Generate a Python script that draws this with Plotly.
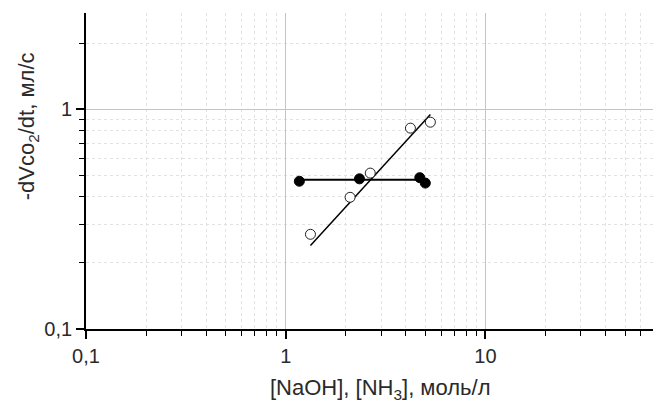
import plotly.graph_objects as go
import numpy as np

# NaOH series (filled) and NH3 series (open)
naoh_x = [1.17, 2.34, 4.69, 5.0]
naoh_y = [0.471, 0.483, 0.489, 0.462]
naoh_fit_x = [1.17, 4.95]
naoh_fit_y = [0.478, 0.478]

nh3_x = [1.33, 2.10, 2.65, 4.21, 5.30]
nh3_y = [0.27, 0.398, 0.513, 0.822, 0.875]
nh3_fit_x = [1.33, 5.30]
nh3_fit_y = [0.240, 0.949]

x_tickvals = [0.1, 1, 10]
x_ticktext = ["0,1", "1", "10"]
y_tickvals = [0.1, 1]
y_ticktext = ["0,1", "1"]
x_minor = [0.2, 0.3, 0.4, 0.5, 0.6, 0.7, 0.8, 0.9, 2, 3, 4, 5, 6, 7, 8, 9, 20, 30, 40, 50, 60]
y_minor = [0.2, 0.3, 0.4, 0.5, 0.6, 0.7, 0.8, 0.9, 2]

fig = go.Figure()
fig.add_trace(go.Scatter(x=naoh_fit_x, y=naoh_fit_y, mode="lines",
                         line=dict(color="black", width=2), showlegend=False))
fig.add_trace(go.Scatter(x=nh3_fit_x, y=nh3_fit_y, mode="lines",
                         line=dict(color="black", width=1.5), showlegend=False))
fig.add_trace(go.Scatter(x=naoh_x, y=naoh_y, mode="markers",
                         marker=dict(color="black", size=10, line=dict(color="black", width=1)),
                         showlegend=False))
fig.add_trace(go.Scatter(x=nh3_x, y=nh3_y, mode="markers",
                         marker=dict(color="white", size=10, line=dict(color="#222", width=1)),
                         showlegend=False))

tick_font = dict(family="Liberation Sans, Arial", size=20, color="#2a2a2a")
title_font = dict(family="Liberation Sans, Arial", size=22, color="#2a2a2a")
fig.update_xaxes(type="log", range=[-1, np.log10(69)],
                 tickvals=x_tickvals, ticktext=x_ticktext,
                 showline=True, linecolor="black", linewidth=1.8,
                 ticks="outside", ticklen=8, tickcolor="black", tickwidth=1.5,
                 showgrid=True, gridcolor="#c4c4c4", gridwidth=1.2,
                 zeroline=False, tickfont=tick_font,
                 minor=dict(tickvals=x_minor, ticks="outside", ticklen=5, tickcolor="black",
                            tickwidth=1.2, showgrid=True, gridcolor="#e2e2e2", griddash="dot",
                            gridwidth=1))
fig.update_yaxes(type="log", range=[-1, np.log10(2.75)],
                 tickvals=y_tickvals, ticktext=y_ticktext,
                 showline=True, linecolor="black", linewidth=1.8,
                 ticks="outside", ticklen=8, tickcolor="black", tickwidth=1.5,
                 showgrid=True, gridcolor="#c4c4c4", gridwidth=1.2,
                 zeroline=False, tickfont=tick_font,
                 minor=dict(tickvals=y_minor, ticks="outside", ticklen=5, tickcolor="black",
                            tickwidth=1.2, showgrid=True, gridcolor="#e2e2e2", griddash="dot",
                            gridwidth=1))

fig.add_annotation(text="-dVco<sub>2</sub>/dt, мл/с", xref="paper", yref="paper",
                   x=-0.102, y=0.642, textangle=-90, showarrow=False,
                   xanchor="center", yanchor="middle", font=title_font)
fig.add_annotation(text="[NaOH], [NH<sub>3</sub>], моль/л", xref="paper", yref="paper",
                   x=0.519, y=-0.19, showarrow=False,
                   xanchor="center", yanchor="middle", font=title_font)

fig.update_layout(width=653, height=403, margin=dict(l=86, r=0, t=13, b=74),
                  plot_bgcolor="white", paper_bgcolor="white")
fig.write_html("out.html")
